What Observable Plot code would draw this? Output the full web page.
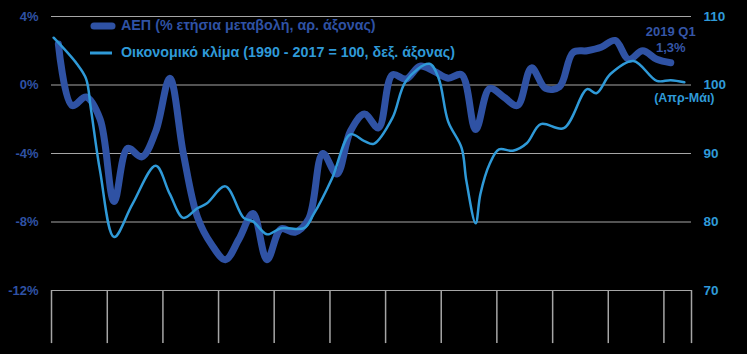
<!DOCTYPE html>
<html>
<head>
<meta charset="utf-8">
<script src="https://cdn.jsdelivr.net/npm/d3@7"></script>
<script src="https://cdn.jsdelivr.net/npm/@observablehq/plot@0.6"></script>
<style>
  html, body { margin: 0; padding: 0; background: #000; }
  #wrap { position: relative; width: 747px; height: 354px; overflow: hidden; font-family: "Liberation Sans", Arial, sans-serif; }
  #legend { position: absolute; left: 90px; top: 12px; font-weight: bold; font-size: 14.3px; line-height: 27px; }
  #legend .row { display: flex; align-items: center; height: 27px; white-space: nowrap; }
  #legend svg { margin-right: 4px; }
</style>
</head>
<body>
<div id="wrap"><div id="chart"></div><div id="legend"></div></div>
<script>
// ---- Data ----
const gdpQuarters = [
  "2008Q1","2008Q2","2008Q3","2008Q4","2009Q1","2009Q2","2009Q3","2009Q4",
  "2010Q1","2010Q2","2010Q3","2010Q4","2011Q1","2011Q2","2011Q3","2011Q4",
  "2012Q1","2012Q2","2012Q3","2012Q4","2013Q1","2013Q2","2013Q3","2013Q4",
  "2014Q1","2014Q2","2014Q3","2014Q4","2015Q1","2015Q2","2015Q3","2015Q4",
  "2016Q1","2016Q2","2016Q3","2016Q4","2017Q1","2017Q2","2017Q3","2017Q4",
  "2018Q1","2018Q2","2018Q3","2018Q4","2019Q1"
];
const gdpValues = [
  2.4, -1.2, -0.7, -2.0, -6.8, -3.7, -4.2, -2.7,
  0.4, -4.0, -7.7, -9.3, -10.2, -9.0, -7.5, -10.2,
  -8.4, -8.6, -7.8, -4.0, -5.2, -2.7, -1.7, -2.5,
  0.6, 0.35, 1.1, 0.8, 0.4, 0.6, -2.6, -0.2,
  -0.7, -1.2, 1.0, -0.2, -0.1, 1.9, 2.0, 2.2,
  2.6, 1.5, 2.0, 1.5, 1.3
];
const climateMonths = [
  "2008-01","2008-06","2008-08","2008-09","2008-11","2009-02","2009-06","2009-11",
  "2010-02","2010-05","2010-08","2010-10","2011-02","2011-06","2011-08","2011-11",
  "2012-02","2012-07","2012-09","2013-01","2013-05","2013-08","2013-10","2014-02",
  "2014-05","2014-10","2014-12","2015-02","2015-05","2015-06","2015-08","2015-09",
  "2015-11","2016-01","2016-04","2016-07","2016-10","2017-03","2017-08","2017-10",
  "2018-01","2018-06","2018-11","2019-02","2019-05"
];
const climateValues = [
  106.9, 103.1, 100.9, 96.6, 87.4, 77.8, 82.6, 88.2,
  84.1, 80.6, 82.0, 82.7, 85.2, 80.6, 80.1, 78.2,
  79.1, 79.1, 81.1, 86.4, 92.8, 91.8, 91.4, 95.2,
  100.6, 103.1, 101.0, 94.7, 90.8, 86.0, 79.8, 84.1,
  88.5, 90.6, 90.4, 91.5, 94.3, 93.7, 99.4, 98.8,
  101.6, 103.5, 100.6, 100.7, 100.4
];
const leftTicks = [4, 0, -4, -8, -12];
const rightTickLabels = ["110", "100", "90", "80", "70"];
const yearStarts = ["2008","2009","2010","2011","2012","2013","2014","2015","2016","2017","2018","2019","2019-07"];
const legendLabels = ["ΑΕΠ (% ετήσια μεταβολή, αρ. άξονας)", "Οικονομικό κλίμα (1990 - 2017 = 100, δεξ. άξονας)"];
const lastGdpLabel = ["2019 Q1", "1,3%"];
const lastClimateLabel = "(Απρ-Μάι)";

// ---- Colours ----
const gdpColor = "#2f52a4";
const climateColor = "#2f9ad8";
const gdpTextColor = "#3556a8";
const gridColor = "#a6a6a6";

// ---- Build tables ----
const qMid = q => { const y = +q.slice(0,4), n = +q.slice(5); return new Date(Date.UTC(y, (n-1)*3 + 1, 15)); };
const mMid = m => { const [y, mo] = m.split("-").map(Number); return new Date(Date.UTC(y, mo-1, 15)); };
const gdp = gdpQuarters.map((q, i) => ({date: qMid(q), value: gdpValues[i]}));
// climate index mapped onto left axis: 100 -> 0%, 10 points -> 4%
const toLeft = v => (v - 100) * 0.4;
const climate = climateMonths.map((m, i) => ({date: mMid(m), value: toLeft(climateValues[i])}));
const yearLines = yearStarts.map(s => new Date(s.length === 4 ? Date.UTC(+s, 0, 1) : Date.UTC(+s.slice(0,4), +s.slice(5)-1, 1)));
const rightMap = new Map(leftTicks.map((t, i) => [t, rightTickLabels[i]]));

const lastG = gdp[gdp.length - 1];
const lastC = climate[climate.length - 1];

const chart = Plot.plot({
  width: 747,
  height: 354,
  marginLeft: 51,
  marginRight: 56,
  marginTop: 16,
  marginBottom: 64,
  style: {background: "#000", fontFamily: "'Liberation Sans', Arial, sans-serif", overflow: "visible"},
  x: {type: "utc", domain: [yearLines[0], yearLines[yearLines.length - 1]], axis: null},
  y: {domain: [-12, 4], axis: null},
  marks: [
    Plot.ruleY(leftTicks, {stroke: gridColor, strokeWidth: 1.2}),
    Plot.ruleX(yearLines, {y1: -12, y2: -15.1, stroke: gridColor, strokeWidth: 1.5, clip: false}),
    Plot.axisY(leftTicks, {anchor: "left", label: null, tickSize: 0, tickPadding: 13, fill: gdpColor, fontSize: 13, fontWeight: "bold", tickFormat: d => d + "%"}),
    Plot.axisY(leftTicks, {anchor: "right", label: null, tickSize: 0, tickPadding: 12, fill: climateColor, fontSize: 13.5, fontWeight: "bold", textAnchor: "start", tickFormat: d => rightMap.get(d)}),
    Plot.line(gdp, {x: "date", y: "value", stroke: gdpColor, strokeWidth: 7, curve: "catmull-rom"}),
    Plot.line(climate, {x: "date", y: "value", stroke: climateColor, strokeWidth: 2.5, curve: "catmull-rom"}),
    Plot.text([lastG], {x: "date", y: "value", text: () => lastGdpLabel[0], dy: -31, fill: gdpTextColor, fontSize: 13, fontWeight: "bold"}),
    Plot.text([lastG], {x: "date", y: "value", text: () => lastGdpLabel[1], dy: -15, fill: gdpTextColor, fontSize: 13, fontWeight: "bold"}),
    Plot.text([lastC], {x: "date", y: "value", text: () => lastClimateLabel, dy: 16, dx: 0, fill: climateColor, fontSize: 12.5, fontWeight: "bold"})
  ]
});
document.getElementById("chart").appendChild(chart);

// ---- Legend ----
const legend = document.getElementById("legend");
legend.innerHTML = `
  <div class="row" style="color:${gdpColor}"><svg width="27" height="10"><line x1="4" y1="5" x2="22" y2="5" stroke="${gdpColor}" stroke-width="7" stroke-linecap="round"/></svg>${legendLabels[0]}</div>
  <div class="row" style="color:${climateColor}"><svg width="27" height="10"><line x1="0" y1="5" x2="22" y2="5" stroke="${climateColor}" stroke-width="3"/></svg>${legendLabels[1]}</div>`;
</script>
</body>
</html>
